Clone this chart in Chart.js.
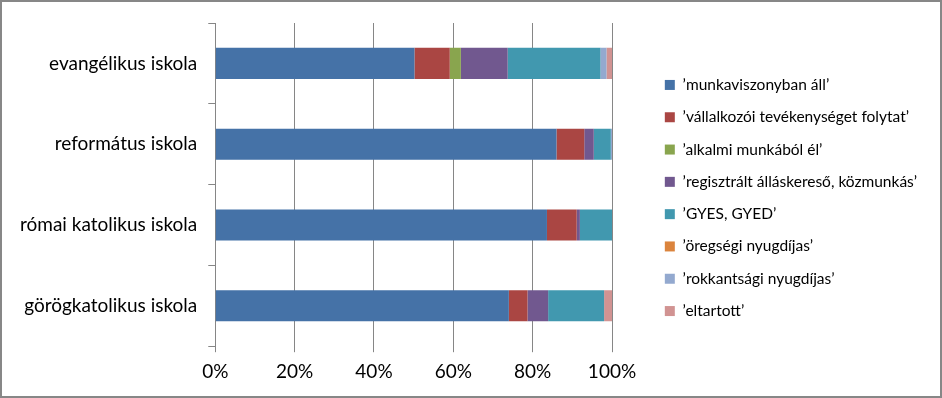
<!DOCTYPE html>
<html>
<head>
<meta charset="utf-8">
<script src="https://cdn.jsdelivr.net/npm/chart.js"></script>
<style>
  body { margin: 0; background: #fff; }
  #wrap { width: 942px; height: 398px; box-sizing: border-box; border: 2px solid #878787; background: #fff; }
</style>
</head>
<body>
<div id="wrap"><canvas id="chart" width="938" height="394"></canvas></div>
<script>
// iskolák (y tengely)
const schools = ["evangélikus iskola", "református iskola", "római katolikus iskola", "görögkatolikus iskola"];

// sorozatok, százalékban
const munkaviszony = [50.2, 86.0, 83.6, 74.0];
const vallalkozo = [8.9, 7.0, 7.5, 4.7];
const alkalmi = [2.8, 0, 0, 0];
const allaskereso = [11.8, 2.4, 0.8, 5.2];
const gyes = [23.4, 4.3, 8.1, 14.1];
const oregsegi = [0, 0, 0, 0];
const rokkant = [1.5, 0.3, 0, 0];
const eltartott = [1.4, 0, 0, 2.0];

const xTicks = [0, 20, 40, 60, 80, 100];

const series = [
  { label: "\u2019munkaviszonyban áll\u2019", data: munkaviszony, color: "#4572A7" },
  { label: "\u2019vállalkozói tevékenységet folytat\u2019", data: vallalkozo, color: "#AA4643" },
  { label: "\u2019alkalmi munkából él\u2019", data: alkalmi, color: "#89A54E" },
  { label: "\u2019regisztrált álláskereső, közmunkás\u2019", data: allaskereso, color: "#71588F" },
  { label: "\u2019GYES, GYED\u2019", data: gyes, color: "#4198AF" },
  { label: "\u2019öregségi nyugdíjas\u2019", data: oregsegi, color: "#DB843D" },
  { label: "\u2019rokkantsági nyugdíjas\u2019", data: rokkant, color: "#93A9CF" },
  { label: "\u2019eltartott\u2019", data: eltartott, color: "#D19392" }
];

const font = "Lato, 'Liberation Sans', sans-serif";

// üres hely a diagram és a jelmagyarázat között
const legendSpacer = {
  id: "legendSpacer",
  afterInit(chart) {
    const lg = chart.legend;
    const fit = lg.fit.bind(lg);
    lg.fit = function () {
      fit();
      this.width += 37;
    };
  },
  afterLayout(chart) {
    chart.legend.left += 36;
    chart.legend.top -= 9;
    chart.legend.bottom -= 9;
  }
};

new Chart(document.getElementById("chart"), {
  type: "bar",
  data: {
    labels: schools,
    datasets: series.map(s => ({
      label: s.label,
      data: s.data,
      backgroundColor: s.color,
      borderWidth: 0,
      barPercentage: 0.385,
      categoryPercentage: 1
    }))
  },
  options: {
    indexAxis: "y",
    responsive: false,
    animation: false,
    layout: { padding: { top: 21, right: 12, bottom: 5, left: 7 } },
    plugins: {
      tooltip: { enabled: false },
      legend: {
        position: "right",
        align: "center",
        maxWidth: 400,
        labels: {
          boxWidth: 10,
          boxHeight: 10,
          padding: 16.8,
          color: "#000",
          font: { family: font, size: 15.5 }
        }
      }
    },
    scales: {
      x: {
        stacked: true,
        min: 0,
        max: 100,
        afterBuildTicks: axis => { axis.ticks = xTicks.map(v => ({ value: v })); },
        border: { display: false },
        grid: { color: "#868686", lineWidth: 1, tickLength: 6 },
        ticks: {
          color: "#000",
          padding: 8,
          font: { family: font, size: 19 },
          callback: v => v + "%"
        }
      },
      y: {
        stacked: true,
        afterFit: axis => { axis.paddingTop = 0; axis.paddingBottom = 0; },
        border: { display: true, color: "#868686" },
        grid: { drawOnChartArea: false, drawTicks: true, tickLength: 7, color: "#868686" },
        ticks: {
          color: "#000",
          padding: 11,
          font: { family: font, size: 19 }
        }
      }
    }
  },
  plugins: [legendSpacer]
});
</script>
</body>
</html>
